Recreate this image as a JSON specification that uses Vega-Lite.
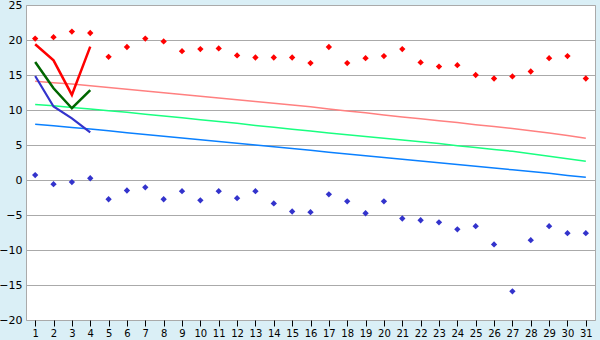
{
  "$schema": "https://vega.github.io/schema/vega-lite/v6.json",
  "width": 569,
  "height": 315,
  "autosize": {"type": "none"},
  "padding": {"left": 26, "top": 5, "right": 5, "bottom": 20},
  "background": "#daeff6",
  "config": {
    "view": {"fill": "white", "stroke": "#aaaaaa", "strokeWidth": 1},
    "axis": {"labelFont": "DejaVu Sans", "labelColor": "#000000", "labelFontSize": 10, "domain": false}
  },
  "datasets": {
    "daily": [
      {"day": 1, "tmax": 20.2, "tmin": 0.7, "nmax": 14.1, "nmean": 10.8, "nmin": 7.95},
      {"day": 2, "tmax": 20.4, "tmin": -0.6, "nmax": 13.9, "nmean": 10.6, "nmin": 7.75},
      {"day": 3, "tmax": 21.2, "tmin": -0.3, "nmax": 13.7, "nmean": 10.35, "nmin": 7.5},
      {"day": 4, "tmax": 21.0, "tmin": 0.25, "nmax": 13.45, "nmean": 10.15, "nmin": 7.3},
      {"day": 5, "tmax": 17.6, "tmin": -2.75, "nmax": 13.2, "nmean": 9.9, "nmin": 7.05},
      {"day": 6, "tmax": 19.0, "tmin": -1.5, "nmax": 12.95, "nmean": 9.67, "nmin": 6.75},
      {"day": 7, "tmax": 20.2, "tmin": -1.05, "nmax": 12.7, "nmean": 9.4, "nmin": 6.5},
      {"day": 8, "tmax": 19.8, "tmin": -2.75, "nmax": 12.45, "nmean": 9.15, "nmin": 6.25},
      {"day": 9, "tmax": 18.4, "tmin": -1.6, "nmax": 12.2, "nmean": 8.9, "nmin": 6.0},
      {"day": 10, "tmax": 18.7, "tmin": -2.9, "nmax": 11.95, "nmean": 8.6, "nmin": 5.75},
      {"day": 11, "tmax": 18.8, "tmin": -1.6, "nmax": 11.7, "nmean": 8.35, "nmin": 5.5},
      {"day": 12, "tmax": 17.8, "tmin": -2.6, "nmax": 11.45, "nmean": 8.1, "nmin": 5.25},
      {"day": 13, "tmax": 17.5, "tmin": -1.6, "nmax": 11.2, "nmean": 7.8, "nmin": 5.0},
      {"day": 14, "tmax": 17.5, "tmin": -3.35, "nmax": 10.95, "nmean": 7.55, "nmin": 4.75},
      {"day": 15, "tmax": 17.5, "tmin": -4.5, "nmax": 10.7, "nmean": 7.25, "nmin": 4.5},
      {"day": 16, "tmax": 16.7, "tmin": -4.6, "nmax": 10.45, "nmean": 7.0, "nmin": 4.25},
      {"day": 17, "tmax": 19.0, "tmin": -2.05, "nmax": 10.15, "nmean": 6.7, "nmin": 3.95},
      {"day": 18, "tmax": 16.7, "tmin": -3.05, "nmax": 9.85, "nmean": 6.45, "nmin": 3.7},
      {"day": 19, "tmax": 17.4, "tmin": -4.75, "nmax": 9.6, "nmean": 6.2, "nmin": 3.45},
      {"day": 20, "tmax": 17.7, "tmin": -3.05, "nmax": 9.3, "nmean": 5.95, "nmin": 3.2},
      {"day": 21, "tmax": 18.7, "tmin": -5.5, "nmax": 9.0, "nmean": 5.7, "nmin": 2.95},
      {"day": 22, "tmax": 16.8, "tmin": -5.75, "nmax": 8.75, "nmean": 5.45, "nmin": 2.7},
      {"day": 23, "tmax": 16.2, "tmin": -6.05, "nmax": 8.45, "nmean": 5.2, "nmin": 2.45},
      {"day": 24, "tmax": 16.4, "tmin": -7.05, "nmax": 8.2, "nmean": 4.9, "nmin": 2.2},
      {"day": 25, "tmax": 15.0, "tmin": -6.6, "nmax": 7.9, "nmean": 4.65, "nmin": 1.95},
      {"day": 26, "tmax": 14.5, "tmin": -9.2, "nmax": 7.65, "nmean": 4.35, "nmin": 1.7},
      {"day": 27, "tmax": 14.8, "tmin": -15.9, "nmax": 7.35, "nmean": 4.1, "nmin": 1.45},
      {"day": 28, "tmax": 15.5, "tmin": -8.6, "nmax": 7.05, "nmean": 3.75, "nmin": 1.2},
      {"day": 29, "tmax": 17.4, "tmin": -6.6, "nmax": 6.7, "nmean": 3.4, "nmin": 0.95},
      {"day": 30, "tmax": 17.7, "tmin": -7.6, "nmax": 6.35, "nmean": 3.05, "nmin": 0.65},
      {"day": 31, "tmax": 14.5, "tmin": -7.6, "nmax": 5.95, "nmean": 2.67, "nmin": 0.38}
    ],
    "recent": [
      {"day": 1, "amax": 19.4, "amean": 16.85, "amin": 14.85},
      {"day": 2, "amax": 17.1, "amean": 13.1, "amin": 10.5},
      {"day": 3, "amax": 12.15, "amean": 10.25, "amin": 8.8},
      {"day": 4, "amax": 19.05, "amean": 12.85, "amin": 6.8}
    ]
  },
  "encoding": {
    "x": {"field": "day", "type": "quantitative",
          "scale": {"domain": [0.5, 31.5], "nice": false, "zero": false},
          "axis": {"title": null, "grid": false, "tickCount": 31,
                   "values": [1,2,3,4,5,6,7,8,9,10,11,12,13,14,15,16,17,18,19,20,21,22,23,24,25,26,27,28,29,30,31],
                   "labelOverlap": false, "labelBound": false,
                   "tickColor": "#000000", "tickSize": 6, "labelPadding": 2, "labelFlush": false}}
  },
  "layer": [
    {
      "data": {"name": "daily"},
      "mark": {"type": "line", "color": "#ff8080", "strokeWidth": 1.5},
      "encoding": {
        "y": {"field": "nmax", "type": "quantitative",
              "scale": {"domain": [-20, 25], "nice": false, "zero": false},
              "axis": {"title": null, "grid": true, "gridColor": "#aaaaaa", "tickCount": 10,
                       "values": [-20,-15,-10,-5,0,5,10,15,20,25],
                       "labelOverlap": false, "ticks": false, "labelPadding": 4, "labelFontSize": 11}}
      }
    },
    {
      "data": {"name": "daily"},
      "mark": {"type": "line", "color": "#19ff80", "strokeWidth": 1.5},
      "encoding": {"y": {"field": "nmean", "type": "quantitative"}}
    },
    {
      "data": {"name": "daily"},
      "mark": {"type": "line", "color": "#0a80ff", "strokeWidth": 1.5},
      "encoding": {"y": {"field": "nmin", "type": "quantitative"}}
    },
    {
      "data": {"name": "recent"},
      "mark": {"type": "line", "color": "#ff0000", "strokeWidth": 2.5},
      "encoding": {"y": {"field": "amax", "type": "quantitative"}}
    },
    {
      "data": {"name": "recent"},
      "mark": {"type": "line", "color": "#006600", "strokeWidth": 2.5},
      "encoding": {"y": {"field": "amean", "type": "quantitative"}}
    },
    {
      "data": {"name": "recent"},
      "mark": {"type": "line", "color": "#3333cc", "strokeWidth": 2.2},
      "encoding": {"y": {"field": "amin", "type": "quantitative"}}
    },
    {
      "data": {"name": "daily"},
      "mark": {"type": "point", "shape": "diamond", "filled": true, "color": "#ff0000", "size": 40, "opacity": 1},
      "encoding": {"y": {"field": "tmax", "type": "quantitative"}}
    },
    {
      "data": {"name": "daily"},
      "mark": {"type": "point", "shape": "diamond", "filled": true, "color": "#3333cc", "size": 40, "opacity": 1},
      "encoding": {"y": {"field": "tmin", "type": "quantitative"}}
    }
  ]
}
